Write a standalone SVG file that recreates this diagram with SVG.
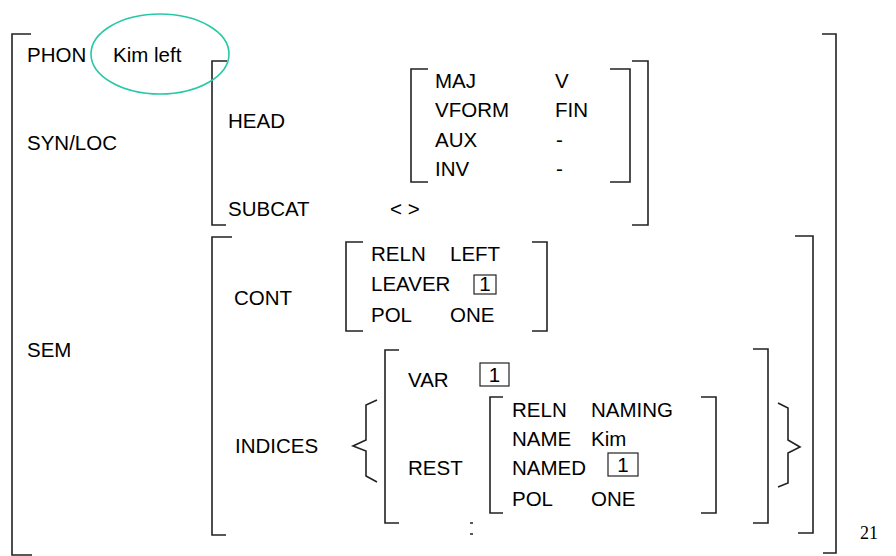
<svg xmlns="http://www.w3.org/2000/svg" width="896" height="556" viewBox="0 0 896 556">
<style>
.t{font-family:"Liberation Sans",Arial,sans-serif;font-size:20.5px;fill:#000}
.n{font-family:"Liberation Serif","Times New Roman",serif;font-size:18px;fill:#000}
.b{fill:none;stroke:#222;stroke-width:1.6}
.box{fill:none;stroke:#222;stroke-width:1.2}
</style>
<rect width="896" height="556" fill="#fff"/>
<g id="connectors">
<path class="b" d="M31,34 H12 V555 H32"/>
<path class="b" d="M822,34 H836 V553 H823"/>
<path class="b" d="M227,61 H212 V225 H226"/>
<path class="b" d="M632,61 H648 V225 H632"/>
<path class="b" d="M428,69 H411 V182 H428"/>
<path class="b" d="M610,69 H630 V182 H610"/>
<path class="b" d="M232,237 H212 V535 H226"/>
<path class="b" d="M795,236 H813 V533 H798"/>
<path class="b" d="M363,242 H346 V331 H363"/>
<path class="b" d="M532,242 H547 V331 H532"/>
<path class="b" d="M399,350 H385 V523 H399"/>
<path class="b" d="M753,349 H768 V523 H753"/>
<path class="b" d="M503,397 H490 V513 H503"/>
<path class="b" d="M701,397 H716 V513 H701"/>
<path class="b" d="M377,400 L366,405 V440 L353,446 L366,451 V476 L377,482"/>
<path class="b" d="M778,403 L788,408 V440 L800,447 L788,453 V483 L778,487"/>
<path class="b" d="M470,523 H473 M470,534 H473"/>
</g>
<g id="phon">
<text class="t" x="27" y="62">PHON</text>
<ellipse cx="160" cy="54" rx="69" ry="40" fill="none" stroke="#26c9a5" stroke-width="1.6"/>
<text class="t" x="113" y="62">Kim left</text>
</g>
<g id="synloc">
<text class="t" x="27" y="150">SYN/LOC</text>
<text class="t" x="228" y="128">HEAD</text>
<text class="t" x="228" y="216">SUBCAT</text>
<text class="t" x="390" y="216">&lt; &gt;</text>
</g>
<g id="head">
<text class="t" x="435" y="88">MAJ</text><text class="t" x="555" y="88">V</text>
<text class="t" x="435" y="117">VFORM</text><text class="t" x="555" y="117">FIN</text>
<text class="t" x="435" y="147">AUX</text><text class="t" x="556" y="147">-</text>
<text class="t" x="435" y="176">INV</text><text class="t" x="556" y="176">-</text>
</g>
<g id="sem">
<text class="t" x="27" y="357">SEM</text>
<text class="t" x="234" y="305">CONT</text>
<text class="t" x="235" y="453">INDICES</text>
</g>
<g id="cont">
<text class="t" x="371" y="261">RELN</text><text class="t" x="450" y="261">LEFT</text>
<text class="t" x="371" y="291">LEAVER</text>
<rect class="box" x="474" y="275" width="22" height="19"/>
<text class="t" x="485" y="291" text-anchor="middle">1</text>
<text class="t" x="371" y="322">POL</text><text class="t" x="450" y="322">ONE</text>
</g>
<g id="indices">
<text class="t" x="408" y="387">VAR</text>
<rect class="box" x="480" y="363" width="29" height="23"/>
<text class="t" x="494.5" y="382" text-anchor="middle">1</text>
<text class="t" x="408" y="475">REST</text>
</g>
<g id="rest">
<text class="t" x="512" y="417">RELN</text><text class="t" x="591" y="417">NAMING</text>
<text class="t" x="512" y="446">NAME</text><text class="t" x="591" y="446">Kim</text>
<text class="t" x="512" y="475">NAMED</text>
<rect class="box" x="608" y="453" width="30" height="23"/>
<text class="t" x="623" y="472" text-anchor="middle">1</text>
<text class="t" x="512" y="506">POL</text><text class="t" x="591" y="506">ONE</text>
</g>
<g id="page">
<text class="n" x="860" y="539">21</text>
</g>
</svg>
